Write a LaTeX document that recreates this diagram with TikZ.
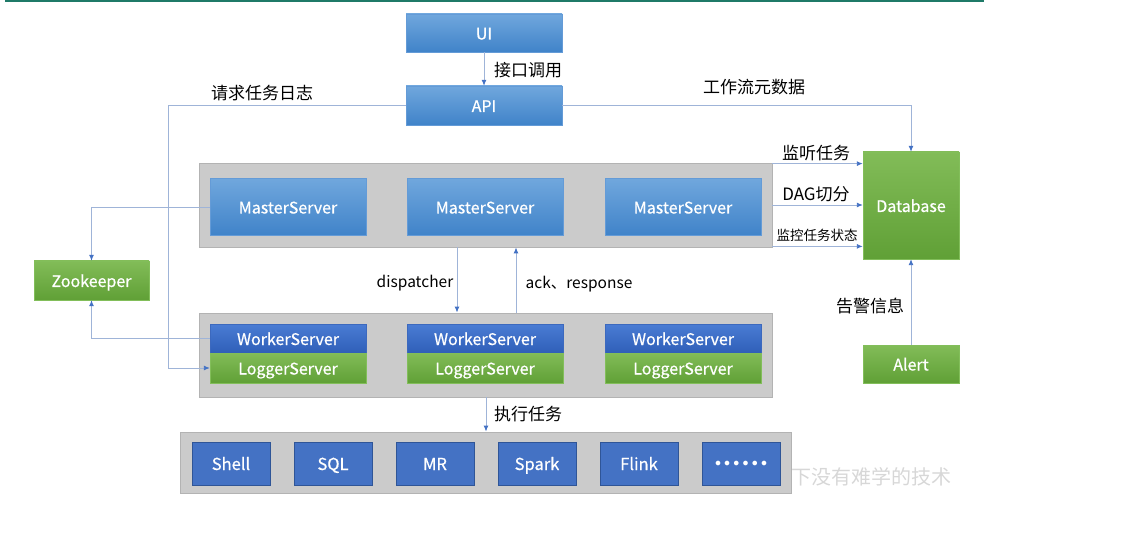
\documentclass[tikz,border=0pt]{standalone}
\usepackage{fontspec}
\setmainfont{Noto Sans CJK SC}
\newfontfamily\boxfont{Noto Sans CJK SC}[FakeBold=0.6]
\usetikzlibrary{arrows.meta,positioning,calc}
\definecolor{conncol}{HTML}{9FB4D8}
\definecolor{tipcol}{HTML}{4472C4}
\definecolor{grayfill}{HTML}{CBCBCB}
\definecolor{grayline}{HTML}{B3B3B3}
\definecolor{topline}{HTML}{1F7A68}
\tikzset{
  x=1pt, y=-1pt,
  box/.style={rectangle, inner sep=0pt, text=white, font=\boxfont\fontsize{16}{16}\selectfont, text height=13pt, text depth=0pt},
  lbluebox/.style={box, top color={rgb,255:red,112;green,167;blue,221}, bottom color={rgb,255:red,64;green,131;blue,201}, draw={rgb,255:red,100;green,155;blue,215}},
  dbluebox/.style={box, top color={rgb,255:red,74;green,124;blue,212}, bottom color={rgb,255:red,47;green,95;blue,184}, draw={rgb,255:red,60;green,105;blue,190}},
  greenbox/.style={box, top color={rgb,255:red,130;green,188;blue,88}, bottom color={rgb,255:red,96;green,160;blue,54}, draw={rgb,255:red,130;green,190;blue,90}},
  taskbox/.style={box, fill={rgb,255:red,68;green,114;blue,196}, draw={rgb,255:red,47;green,85;blue,151}, font=\boxfont\fontsize{16.5}{16}\selectfont},
  container/.style={rectangle, inner sep=0pt, fill=grayfill, draw=grayline, line width=0.8pt},
  conn/.style={draw=conncol, line width=0.9pt, -{Latex[length=6pt,width=5pt,fill=tipcol,color=tipcol]}},
  lbl/.style={inner sep=0pt, text=black, font=\fontsize{17}{17}\selectfont},
  lbllat/.style={inner sep=0pt, text=black, font=\fontsize{15.5}{16}\selectfont},
}
\begin{document}
\begin{tikzpicture}
\useasboundingbox (0,0) rectangle (1125,540);
% top rule
\draw[topline, line width=2.2pt] (5,1) -- (984,1);

% watermark (behind task container)
\node[inner sep=0pt, text={rgb,255:red,215;green,215;blue,215}, font=\fontsize{20}{20}\selectfont] (wm) at (861,477) {天下没有难学的技术};

% top boxes
\node[lbluebox, minimum width=156pt, minimum height=38pt] (ui) at (484,33) {UI};
\node[lbluebox, minimum width=156pt, minimum height=39pt] (api) at (484,105.5) {API};

% containers
\node[container, minimum width=573pt, minimum height=84pt] (mc) at (485.5,205) {};
\node[container, minimum width=573pt, minimum height=84pt] (wc) at (485.5,355) {};
\node[container, minimum width=611pt, minimum height=61pt] (tc) at (485.5,462.5) {};

% master servers
\node[lbluebox, minimum width=156pt, minimum height=57pt] (m1) at (288,207) {MasterServer};
\node[lbluebox, minimum width=156pt, minimum height=57pt] (m2) at (485,207) {MasterServer};
\node[lbluebox, minimum width=156pt, minimum height=57pt] (m3) at (683,207) {MasterServer};

% worker + logger servers
\node[dbluebox, minimum width=156pt, minimum height=29pt] (w1) at (288,338.5) {WorkerServer};
\node[greenbox, minimum width=156pt, minimum height=30pt] (l1) at (288,368) {LoggerServer};
\node[dbluebox, minimum width=156pt, minimum height=29pt] (w2) at (485,338.5) {WorkerServer};
\node[greenbox, minimum width=156pt, minimum height=30pt] (l2) at (485,368) {LoggerServer};
\node[dbluebox, minimum width=156pt, minimum height=29pt] (w3) at (683,338.5) {WorkerServer};
\node[greenbox, minimum width=156pt, minimum height=30pt] (l3) at (683,368) {LoggerServer};

% task boxes
\node[taskbox, minimum width=78pt, minimum height=43pt] (t1) at (231,463.5) {Shell};
\node[taskbox, minimum width=78pt, minimum height=43pt] (t2) at (333,463.5) {SQL};
\node[taskbox, minimum width=78pt, minimum height=43pt] (t3) at (435,463.5) {MR};
\node[taskbox, minimum width=78pt, minimum height=43pt] (t4) at (537,463.5) {Spark};
\node[taskbox, minimum width=78pt, minimum height=43pt] (t5) at (639,463.5) {Flink};
\node[taskbox, minimum width=78pt, minimum height=43pt, text height=6pt] (t6) at (741,463.5) {\makebox[52pt]{$\scriptstyle\bullet$\hfill$\scriptstyle\bullet$\hfill$\scriptstyle\bullet$\hfill$\scriptstyle\bullet$\hfill$\scriptstyle\bullet$\hfill$\scriptstyle\bullet$}};

% side boxes
\node[greenbox, minimum width=96pt, minimum height=107pt] (db) at (911,205.5) {Database};
\node[greenbox, minimum width=115pt, minimum height=39pt] (zk) at (91.5,280.5) {Zookeeper};
\node[greenbox, minimum width=96pt, minimum height=38pt] (al) at (911,364) {Alert};

% helper coordinates
\coordinate (xlog) at (168,105);

% connectors
\draw[conn] (ui.south) -- (api.north);
\draw[conn] (api.west) -- (api.west -| xlog) |- (l1.west);
\draw[conn] (api.east) -| (db.north);
\draw[conn] (m1.west) -| (zk.north);
\draw[conn] (w1.west) -| (zk.south);
\draw[conn] ([yshift=-1pt]mc.north east) -- ([yshift=-1pt]mc.north east -| db.west);
\draw[conn] (mc.east) -- (mc.east -| db.west);
\draw[conn] ([yshift=1pt]mc.south east) -- ([yshift=1pt]mc.south east -| db.west);
\draw[conn] (mc.south -| 457,0) -- (wc.north -| 457,0);
\draw[conn] (wc.north -| 516,0) -- (mc.south -| 516,0);
\draw[conn] (wc.south -| 486,0) -- (tc.north -| 486,0);
\draw[conn] (al.north) -- (db.south);

% labels
\node[lbl] (lb1) at (528,70) {接口调用};
\node[lbl] (lb2) at (262,93) {请求任务日志};
\node[lbl] (lb3) at (754,87) {工作流元数据};
\node[lbl] (lb4) at (816,153) {监听任务};
\node[lbl] (lb5) at (816,194) {DAG切分};
\node[lbl, font=\fontsize{13.5}{14}\selectfont] (lb6) at (817,235) {监控任务状态};
\node[lbl] (lb7) at (870,306) {告警信息};
\node[lbllat] (lb8) at (415,283) {dispatcher};
\node[lbllat] (lb9) at (579,284) {ack、response};
\node[lbl] (lb10) at (528,414) {执行任务};
\end{tikzpicture}
\end{document}
